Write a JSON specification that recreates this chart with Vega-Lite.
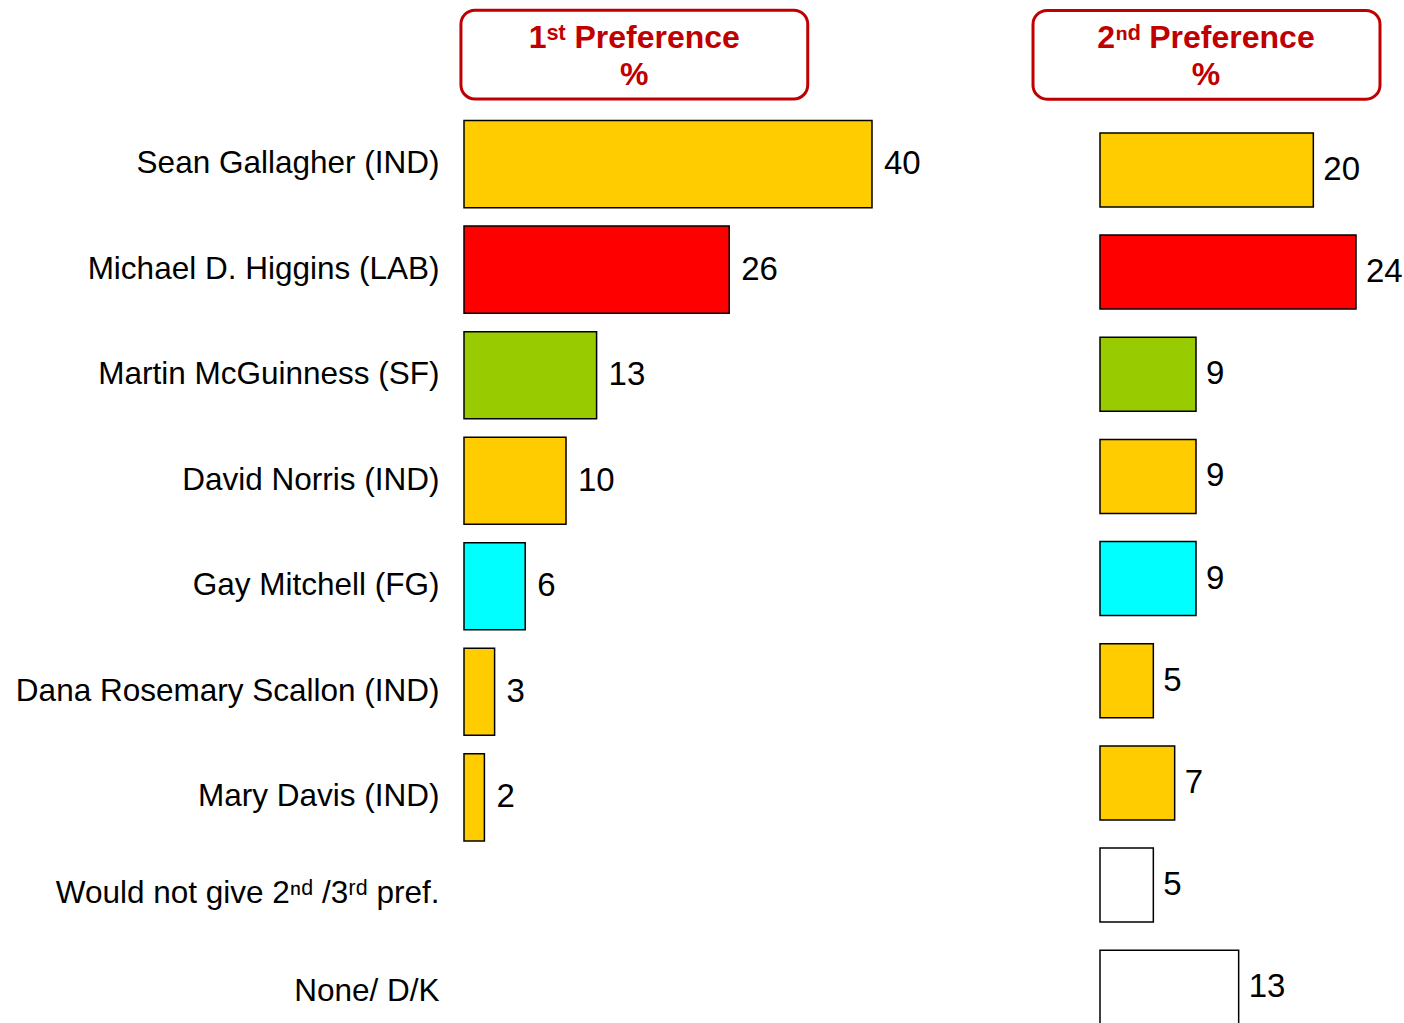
{
  "$schema": "https://vega.github.io/schema/vega-lite/v6.json",
  "padding": {"left": 15, "top": 5, "right": 0, "bottom": 0},
  "background": "white",
  "spacing": 228,
  "bounds": "flush",
  "config": {"view": {"stroke": null}, "font": "Liberation Sans"},
  "datasets": {
    "prefs": [
      {"cand": "Sean Gallagher (IND)", "first": 40, "second": 20, "party": "IND"},
      {"cand": "Michael D. Higgins (LAB)", "first": 26, "second": 24, "party": "LAB"},
      {"cand": "Martin McGuinness (SF)", "first": 13, "second": 9, "party": "SF"},
      {"cand": "David Norris (IND)", "first": 10, "second": 9, "party": "IND"},
      {"cand": "Gay Mitchell (FG)", "first": 6, "second": 9, "party": "FG"},
      {"cand": "Dana Rosemary Scallon (IND)", "first": 3, "second": 5, "party": "IND"},
      {"cand": "Mary Davis (IND)", "first": 2, "second": 7, "party": "IND"},
      {"cand": "Would not give 2ⁿᵈ /3ʳᵈ pref.", "first": null, "second": 5, "party": "none"},
      {"cand": "None/ D/K", "first": null, "second": 13, "party": "none"}
    ],
    "head1": [{"head": "1ˢᵗ Preference\n%"}],
    "head2": [{"head": "2ⁿᵈ  Preference\n%"}]
  },
  "hconcat": [
    {
      "width": 408,
      "height": 1057,
      "layer": [
        {
          "data": {"name": "prefs"},
          "transform": [{"filter": "isValid(datum.first)"}],
          "mark": {"type": "bar", "stroke": "black", "strokeWidth": 1.5},
          "encoding": {
            "y": {
              "field": "cand", "type": "nominal",
              "scale": {
                "domain": ["header", "Sean Gallagher (IND)", "Michael D. Higgins (LAB)", "Martin McGuinness (SF)", "David Norris (IND)", "Gay Mitchell (FG)", "Dana Rosemary Scallon (IND)", "Mary Davis (IND)", "Would not give 2ⁿᵈ /3ʳᵈ pref.", "None/ D/K"],
                "paddingInner": 0.175, "paddingOuter": 0.095
              },
              "axis": {
                "title": null, "domain": false, "ticks": false,
                "labelFontSize": 31.5, "labelColor": "black", "labelFont": "Liberation Sans",
                "labelPadding": 25, "labelLimit": 0,
                "labelExpr": "datum.value == 'header' ? '' : ((datum.value == 'None/ D/K' || indexof(datum.value, 'Would') == 0) ? datum.value + '\u00a0\u00a0\u00a0' : datum.value)",
                "labelBaseline": {"condition": [{"test": "datum.value == 'None/ D/K'", "value": "bottom"}, {"test": "indexof(datum.value, 'Would') == 0", "value": "alphabetic"}], "value": "middle"}
              }
            },
            "x": {"field": "first", "type": "quantitative", "scale": {"domain": [0, 40], "nice": false}, "axis": null},
            "fill": {
              "field": "party", "type": "nominal",
              "scale": {"domain": ["IND", "LAB", "SF", "FG", "none"], "range": ["#FFCC00", "#FF0000", "#99CC00", "#00FFFF", "#FFFFFF"]},
              "legend": null
            }
          }
        },
        {
          "data": {"name": "prefs"},
          "transform": [{"filter": "isValid(datum.first)"}],
          "mark": {"type": "text", "align": "left", "baseline": "middle", "dx": 12, "fontSize": 33, "color": "black"},
          "encoding": {
            "y": {"field": "cand", "type": "nominal"},
            "x": {"field": "first", "type": "quantitative"},
            "text": {"field": "first", "type": "quantitative"}
          }
        },
        {
          "data": {"name": "head1"},
          "mark": {"type": "bar", "fill": "white", "stroke": "#C00000", "strokeWidth": 3, "cornerRadius": 14, "height": {"band": 1.02}, "yOffset": -4},
          "encoding": {
            "y": {"datum": "header"},
            "x": {"datum": -0.3},
            "x2": {"datum": 33.7}
          }
        },
        {
          "data": {"name": "head1"},
          "mark": {"type": "text", "fontWeight": "bold", "fontSize": 32, "color": "#C00000", "lineBreak": "\n", "lineHeight": 37, "baseline": "middle", "align": "center", "yOffset": -21},
          "encoding": {
            "y": {"datum": "header"},
            "x": {"datum": 16.7},
            "text": {"field": "head"}
          }
        }
      ]
    },
    {
      "width": 256,
      "height": 1045,
      "layer": [
        {
          "data": {"name": "prefs"},
          "mark": {"type": "bar", "stroke": "black", "strokeWidth": 1.5},
          "encoding": {
            "y": {
              "field": "cand", "type": "nominal",
              "scale": {
                "domain": ["header", "Sean Gallagher (IND)", "Michael D. Higgins (LAB)", "Martin McGuinness (SF)", "David Norris (IND)", "Gay Mitchell (FG)", "Dana Rosemary Scallon (IND)", "Mary Davis (IND)", "Would not give 2ⁿᵈ /3ʳᵈ pref.", "None/ D/K"],
                "paddingInner": 0.276, "paddingOuter": 0.2525
              },
              "axis": null
            },
            "x": {"field": "second", "type": "quantitative", "scale": {"domain": [0, 24], "nice": false}, "axis": null},
            "fill": {
              "field": "party", "type": "nominal",
              "scale": {"domain": ["IND", "LAB", "SF", "FG", "none"], "range": ["#FFCC00", "#FF0000", "#99CC00", "#00FFFF", "#FFFFFF"]},
              "legend": null
            }
          }
        },
        {
          "data": {"name": "prefs"},
          "mark": {"type": "text", "align": "left", "baseline": "middle", "dx": 10, "fontSize": 33, "color": "black"},
          "encoding": {
            "y": {"field": "cand", "type": "nominal"},
            "x": {"field": "second", "type": "quantitative"},
            "text": {"field": "second", "type": "quantitative"}
          }
        },
        {
          "data": {"name": "head2"},
          "mark": {"type": "bar", "fill": "white", "stroke": "#C00000", "strokeWidth": 3, "cornerRadius": 14, "height": {"band": 1.2}, "yOffset": -13},
          "encoding": {
            "y": {"datum": "header"},
            "x": {"datum": -6.28},
            "x2": {"datum": 26.25}
          }
        },
        {
          "data": {"name": "head2"},
          "mark": {"type": "text", "fontWeight": "bold", "fontSize": 32, "color": "#C00000", "lineBreak": "\n", "lineHeight": 37, "baseline": "middle", "align": "center", "yOffset": -30},
          "encoding": {
            "y": {"datum": "header"},
            "x": {"datum": 9.94},
            "text": {"field": "head"}
          }
        }
      ]
    }
  ]
}
